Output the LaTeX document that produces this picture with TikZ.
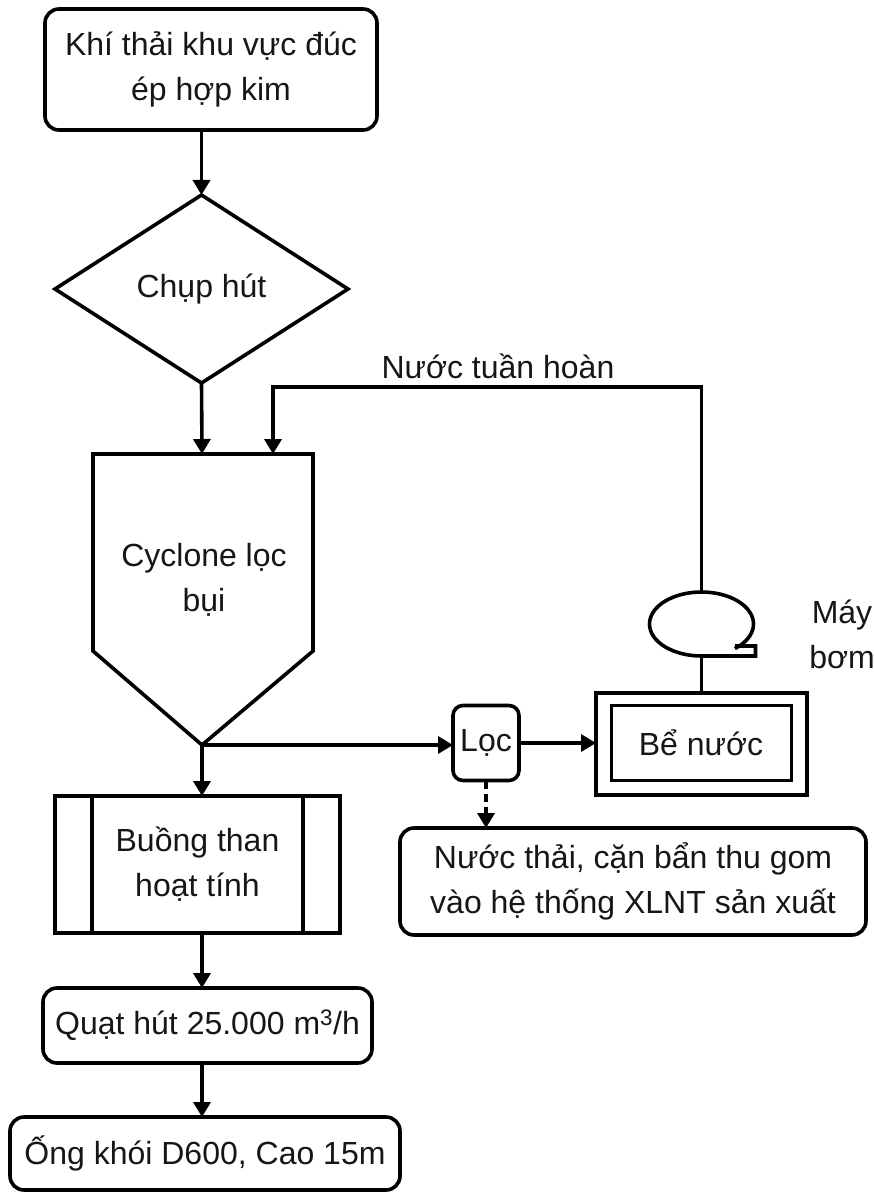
\documentclass[tikz,border=0pt]{standalone}
\usepackage{fontspec}
\setmainfont{Liberation Sans}
\usetikzlibrary{shapes.geometric,arrows.meta,calc}
\definecolor{txt}{HTML}{161616}
\newcommand{\lbl}{\fontsize{32}{45}\selectfont\color{txt}}
\begin{document}
\begin{tikzpicture}[x=1pt,y=-1pt,
  every node/.style={font=\lbl, inner sep=0pt, outer sep=0pt, align=center},
  rbox/.style={draw, line width=3.6pt, rounded corners=14pt},
  sbox/.style={draw, line width=3.6pt},
  link/.style={line width=3.6pt, -{Triangle[length=15pt,width=17pt]}},
  dlink/.style={link, dash pattern=on 8pt off 5pt}]

\useasboundingbox (0,0) rectangle (873,1193);

% source
\node[rbox, minimum width=332, minimum height=121] (src) at (211,69.5)
  {Khí thải khu vực đúc\\ép hợp kim};

% hood
\node[diamond, draw, line width=3.6pt, minimum width=293, minimum height=188, aspect=1.56]
  (hood) at (201.5,289) {Chụp hút};

% cyclone (pentagon with a pointed bottom)
\coordinate (cycTL) at (93,454);
\coordinate (cycTR) at (313,454);
\coordinate (cycB) at (202,745);
\coordinate (cycIn) at (202,454);
\coordinate (cycRet) at (273,454);
\draw[line width=3.6pt, line join=miter] (cycTL) -- (cycTR) -- (313,651) -- (cycB)
  -- (93,651) -- cycle;
\node (cyc) at (204,580) {Cyclone lọc\\bụi};

% activated carbon chamber
\node[sbox, minimum width=285, minimum height=137] (carbon) at (197.5,864.5)
  {Buồng than\\hoạt tính};
\draw[line width=3.6pt] ($(carbon.north west)+(37,0)$) -- ($(carbon.south west)+(37,0)$);
\draw[line width=3.6pt] ($(carbon.north east)+(-37,0)$) -- ($(carbon.south east)+(-37,0)$);

% fan and stack
\node[rbox, minimum width=329, minimum height=75] (fan) at (207.5,1025.5)
  {Quạt hút 25.000 m\textsuperscript{3}/h};
\node[rbox, minimum width=390, minimum height=73] (stack) at (205,1153.5)
  {Ống khói D600, Cao 15m};

% filter, tank, waste water
\node[rbox, rounded corners=10pt, minimum width=66, minimum height=75] (filt) at (486,743) {Lọc};
\node[sbox, minimum width=211, minimum height=102] (tank) at (701.5,744) {};
\node[draw, line width=3pt, minimum width=180, minimum height=75] (tankin) at (701,743) {Bể nước};
\node[rbox, minimum width=466, minimum height=107] (waste) at (633,881.5)
  {Nước thải, cặn bẩn thu gom\\vào hệ thống XLNT sản xuất};

% pump
\node[minimum width=105, minimum height=64] (pump) at (701.5,624) {};
\draw[line width=3.6pt, line join=miter]
  ($(pump.center)+({52*cos(50)},{32*sin(50)})$)
  arc[start angle=50, end angle=-270, x radius=52, y radius=32]
  -- ($(pump.center)+(54,32)$) -- ($(pump.center)+(54,22)$)
  -- ($(pump.center)+({52*cos(50)},22)$);
\node[anchor=center] (pumplbl) at (842,634) {Máy\\bơm};

% connectors (the main gas line runs straight down at x = 201.5)
\draw[link] (hood.north |- src.south) -- (hood.north);
\draw[link] (hood.south) -- (cycIn);
\coordinate (loopL) at (273,387);
\draw[link] (pump.north) |- (loopL) -- (cycRet);
\node (retlbl) at (498,366) {Nước tuần hoàn};
\draw[line width=3.6pt] (tank.north) -- (pump.south);
\draw[link] (cycB) -- (cycB |- carbon.north);
\draw[link] (cycB) -- (cycB -| filt.west);
\draw[link] (filt.east) -- (filt.east -| tank.west);
\draw[dlink] (filt.south) -- (filt.south |- waste.north);
\draw[link] (cycB |- carbon.south) -- (cycB |- fan.north);
\draw[link] (cycB |- fan.south) -- (cycB |- stack.north);
\end{tikzpicture}
\end{document}
